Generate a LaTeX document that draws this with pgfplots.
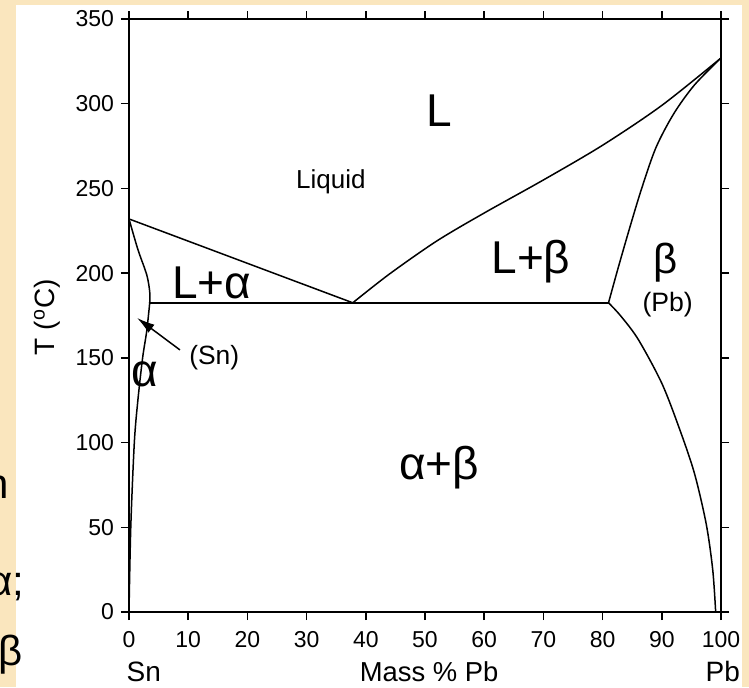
\documentclass[border=0pt]{standalone}
\usepackage{fontspec}
\setmainfont{Liberation Sans}
\usepackage{pgfplots}
\pgfplotsset{compat=1.18}
\usetikzlibrary{arrows.meta}
\definecolor{bgbeige}{RGB}{250,230,190}
\begin{document}
\begin{tikzpicture}
\path[use as bounding box] (-64.5pt,-37.5pt) rectangle (310pt,306pt);
\fill[bgbeige] (-64.5pt,-37.5pt) rectangle (310pt,306pt);
\fill[white] (-56.5pt,-37.5pt) rectangle (306.5pt,303.5pt);
\node[anchor=base east,inner sep=0pt,font=\fontsize{21}{24}\selectfont] at (-60pt,57pt) {n};
\node[anchor=base east,inner sep=0pt,font=\fontsize{21}{24}\selectfont] at (-52pt,8.5pt) {α;};
\node[anchor=base east,inner sep=0pt,font=\fontsize{21}{24}\selectfont] at (-53pt,-26.5pt) {β};
\begin{axis}[
  at={(0,0)}, anchor=south west,
  scale only axis, width=296pt, height=296.5pt,
  xmin=0, xmax=100, ymin=0, ymax=350,
  xtick={0,10,...,100}, ytick={0,50,...,350},
  tick align=outside, major tick length=4pt,
  axis line style={line width=1pt},
  major tick style={black, line width=0.75pt},
  ticklabel style={font=\fontsize{11.5}{13}\selectfont},
  xticklabel style={yshift=-2pt},
  /pgf/number format/assume math mode=true,
  clip=false,
]
% alpha liquidus
\addplot[black, line width=0.75pt] coordinates {(0,232) (37.8,182.5)};
% eutectic line
\addplot[black, line width=0.75pt] coordinates {(3.5,182.5) (81,182.5)};
% alpha solidus
\addplot[black, line width=0.75pt, smooth] coordinates {(0,232) (1.5,214) (3,199) (3.5,189) (3.5,182.5)};
% alpha solvus
\addplot[black, line width=0.75pt, smooth] coordinates {(3.5,182.5) (3,166) (2.3,150) (1.5,125) (0.9,100) (0.3,50) (0,0)};
% beta liquidus
\addplot[black, line width=0.75pt, smooth] coordinates {(37.8,182.5) (44,199.5) (52,219) (60,235.5) (70,255) (80,275.5) (90,299) (100,327)};
% beta solidus
\addplot[black, line width=0.75pt, smooth] coordinates {(81,182.5) (82.7,204) (84.6,227) (86.6,250) (89,274) (92,294) (95.5,311) (100,327)};
% beta solvus
\addplot[black, line width=0.75pt, smooth] coordinates {(81,182.5) (83,175) (86,161) (90,135) (93,108) (95.5,82) (97.5,52) (98.6,25) (99.1,0)};
% arrow
\draw[black, line width=0.75pt, -{Latex[length=9pt,width=5pt]}] (axis cs:8.6,154.7) -- (axis cs:1.35,173.6);
% labels
\node[anchor=base, inner sep=0pt, font=\fontsize{23}{26}\selectfont] at (axis cs:52.4,286.5) {L};
\node[anchor=base, inner sep=0pt, font=\fontsize{13}{15}\selectfont] at (axis cs:34.1,250) {Liquid};
\node[anchor=base, inner sep=0pt, font=\fontsize{23}{26}\selectfont] at (axis cs:14.0,185.2) {L+α};
\node[anchor=base, inner sep=0pt, font=\fontsize{23}{26}\selectfont] at (axis cs:67.9,200) {L+β};
\node[anchor=base, inner sep=0pt, font=\fontsize{21}{24}\selectfont] at (axis cs:90.7,200) {β};
\node[anchor=base, inner sep=0pt, font=\fontsize{13.3}{15}\selectfont] at (axis cs:91.0,177.3) {(Pb)};
\node[anchor=base, inner sep=0pt, font=\fontsize{13.2}{15}\selectfont] at (axis cs:14.4,145.8) {(Sn)};
\node[anchor=base, inner sep=0pt, font=\fontsize{23}{26}\selectfont] at (axis cs:2.6,133) {α};
\node[anchor=base, inner sep=0pt, font=\fontsize{23}{26}\selectfont] at (axis cs:52.4,78.3) {α+β};
\node[anchor=base, inner sep=0pt, font=\fontsize{14}{16}\selectfont] at (axis cs:2.5,-41.3) {Sn};
\node[anchor=base, inner sep=0pt, font=\fontsize{14}{16}\selectfont] at (axis cs:100.3,-41.3) {Pb};
\node[anchor=base, inner sep=0pt, font=\fontsize{13.7}{16}\selectfont] at (axis cs:50.7,-41.3) {Mass \% Pb};
\node[anchor=base, inner sep=0pt, rotate=90, font=\fontsize{14}{16}\selectfont] at (axis cs:-12.5,174) {T (\textsuperscript{o}C)};
\end{axis}
\end{tikzpicture}
\end{document}
